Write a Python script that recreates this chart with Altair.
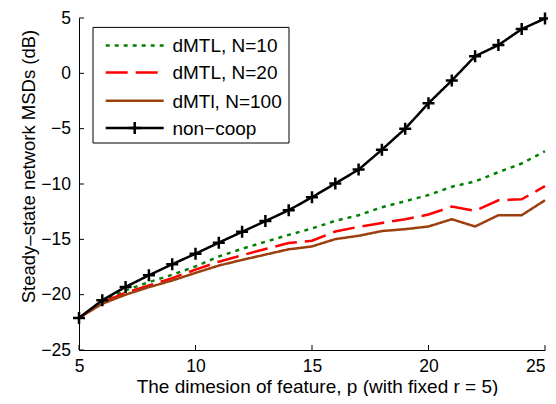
import altair as alt
import pandas as pd

p_values = list(range(5, 26))
series_names = ["dMTL, N=10", "dMTL, N=20", "dMTl, N=100", "non\u2212coop"]
msd_n10 = [-22.1, -20.6, -19.6, -18.87, -18.2, -17.45, -16.55, -15.85, -15.22, -14.6, -14.02,
           -13.33, -12.82, -12.1, -11.55, -11.0, -10.25, -9.77, -8.93, -8.15, -7.04]
msd_n20 = [-22.1, -20.7, -19.83, -19.17, -18.5, -17.74, -17.02, -16.44, -15.87, -15.34, -15.13,
           -14.29, -13.87, -13.52, -13.18, -12.76, -12.04, -12.43, -11.47, -11.38, -10.19]
msd_n100 = [-22.1, -20.82, -20.0, -19.32, -18.72, -18.03, -17.37, -16.86, -16.38, -15.9, -15.64,
            -14.98, -14.68, -14.25, -14.08, -13.84, -13.18, -13.84, -12.82, -12.82, -11.47]
msd_noncoop = [-22.1, -20.5, -19.3, -18.25, -17.25, -16.3, -15.3, -14.32, -13.35, -12.37, -11.2,
               -9.95, -8.7, -6.9, -5.0, -2.7, -0.65, 1.55, 2.55, 4.0, 4.95]
x_ticks = [5, 10, 15, 20, 25]
y_ticks = [-25, -20, -15, -10, -5, 0, 5]

colors = ["#008000", "#ff0000", "#9c3f0e", "#000000"]
dashes = [[4, 5], [22, 8], [1, 0], [1, 0]]

rows = []
for name, vals in zip(series_names, [msd_n10, msd_n20, msd_n100, msd_noncoop]):
    for p, v in zip(p_values, vals):
        rows.append({"p": p, "msd": v, "series": name})
df = pd.DataFrame(rows)

W, H = 466, 332
FONT = "Liberation Sans"
cross = "M-1,0L1,0M0,-1L0,1"

xscale = alt.Scale(domain=[5, 25], nice=False)
yscale = alt.Scale(domain=[-25, 5], nice=False)

base = alt.Chart(df)

lines = base.mark_line(strokeWidth=2.5).encode(
    x=alt.X("p:Q", scale=xscale,
            axis=alt.Axis(values=x_ticks, title="The dimesion of feature, p (with fixed r = 5)",
                          ticks=False, tickSize=0, grid=False, labelPadding=21,
                          labelBaseline="alphabetic",
                          labelAlign=alt.expr("datum.value == 25 ? 'right' : 'center'"),
                          titleX=238, titleY=42, titleBaseline="alphabetic", titleAlign="center",
                          titleFontSize=19)),
    y=alt.Y("msd:Q", scale=yscale,
            axis=alt.Axis(values=y_ticks, title="Steady\u2013state network MSDs (dB)",
                          ticks=False, tickSize=0, grid=False, labelPadding=8.5,
                          titleX=-51, titleY=148, titleAngle=270, titleBaseline="middle",
                          titleAlign="center", titleFontSize=18.5)),
    color=alt.Color("series:N", scale=alt.Scale(domain=series_names, range=colors), legend=None),
    strokeDash=alt.StrokeDash("series:N", scale=alt.Scale(domain=series_names, range=dashes),
                              legend=None),
    order=alt.Order("p:Q"),
)

pts = base.transform_filter(alt.datum.series == series_names[3]).mark_point(
    shape=cross, size=144, strokeWidth=2.5, color="black", opacity=1, filled=False
).encode(x=alt.X("p:Q", scale=xscale), y=alt.Y("msd:Q", scale=yscale))

xt = alt.Chart(pd.DataFrame({"t": x_ticks})).mark_rule(color="black", strokeWidth=1).encode(
    x=alt.X("t:Q", scale=xscale), y=alt.value(H), y2=alt.value(H - 5))
yt = alt.Chart(pd.DataFrame({"t": y_ticks})).mark_rule(color="black", strokeWidth=1).encode(
    y=alt.Y("t:Q", scale=yscale), x=alt.value(0), x2=alt.value(5))

# manual legend (MATLAB style box)
leg_box = alt.Chart(pd.DataFrame({"s": ["box"]})).mark_rect(
    fill="white", stroke="black", strokeWidth=1
).encode(x=alt.value(14), x2=alt.value(210), y=alt.value(9.4), y2=alt.value(125))

leg_rows_y = [27.4, 54.4, 82.7, 110.0]
legend_layers = [leg_box]
for name, col, dsh, ly in zip(series_names, colors, dashes, leg_rows_y):
    d = pd.DataFrame({"s": [name]})
    legend_layers.append(
        alt.Chart(d).mark_rule(color=col, strokeWidth=2.5, strokeDash=dsh).encode(
            x=alt.value(26.7), x2=alt.value(84.7), y=alt.value(ly))
    )
    legend_layers.append(
        alt.Chart(d).mark_text(align="left", baseline="middle", fontSize=19, font=FONT,
                               color="black").encode(
            x=alt.value(93.4), y=alt.value(ly + 1), text="s:N")
    )
legend_layers.append(
    alt.Chart(pd.DataFrame({"s": [series_names[3]]})).mark_point(
        shape=cross, size=150, strokeWidth=2.5, color="black", opacity=1, filled=False
    ).encode(x=alt.value(55.7), y=alt.value(leg_rows_y[3]))
)

chart = alt.layer(lines, pts, xt, yt, *legend_layers).properties(
    width=W, height=H,
    autosize=alt.AutoSizeParams(type="none"),
    padding={"left": 71, "top": 10, "right": 3, "bottom": 46},
    background="white",
).configure_view(stroke=None).configure_axis(
    labelFont=FONT, titleFont=FONT, labelFontSize=17.5,
    titleFontWeight="normal", labelColor="black", titleColor="black",
    domainColor="black", domainWidth=1,
)

chart.save("out.html", embed_options={"renderer": "svg", "actions": False})
